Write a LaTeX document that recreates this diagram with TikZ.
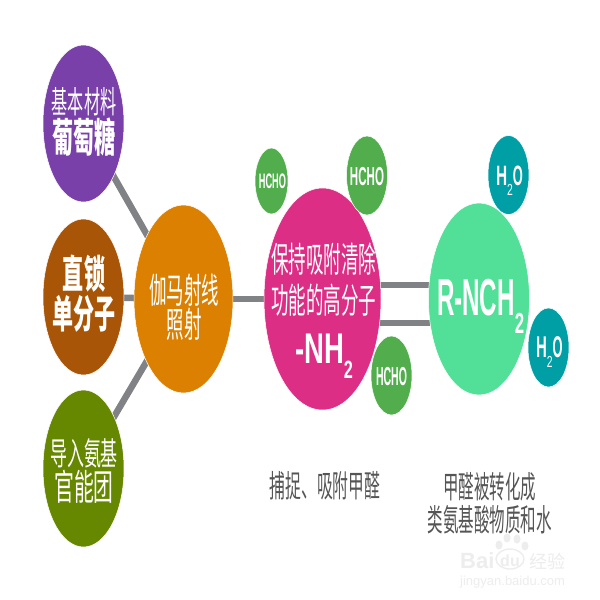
\documentclass[tikz,border=0pt]{standalone}
\usepackage{fontspec}
\usepackage{graphicx}
\usetikzlibrary{shapes.geometric,backgrounds}
\setmainfont{Noto Sans CJK SC}
\newfontfamily\latinf{Liberation Sans}
\definecolor{cpurple}{HTML}{7840A8}
\definecolor{cbrown}{HTML}{A85508}
\definecolor{colive}{HTML}{668800}
\definecolor{corange}{HTML}{DB8000}
\definecolor{cmagenta}{HTML}{DC2E85}
\definecolor{cmint}{HTML}{52E098}
\definecolor{chcho}{HTML}{52AE4D}
\definecolor{cteal}{HTML}{009FA5}
\definecolor{cgrayl}{HTML}{808285}
\definecolor{ccap}{HTML}{555555}
\definecolor{cwm}{HTML}{EDEDED}
% size, x-scale, text
\newcommand\tx[3]{\scalebox{#2}[1]{\fontsize{#1pt}{#1pt}\selectfont #3}}
\newcommand\txb[3]{\scalebox{#2}[1]{\fontsize{#1pt}{#1pt}\selectfont\bfseries #3}}
\newcommand\lt[3]{\scalebox{#2}[1]{\fontsize{#1pt}{#1pt}\selectfont\latinf #3}}
\newcommand\ltb[3]{\scalebox{#2}[1]{\fontsize{#1pt}{#1pt}\selectfont\latinf\bfseries #3}}
\tikzset{
  blob/.style={ellipse,inner sep=0pt,outer sep=0pt,draw=white,line width=0.5pt},
  txt/.style={inner sep=0pt,outer sep=0pt,text=white},
  captxt/.style={inner sep=0pt,outer sep=0pt,text=ccap},
  link/.style={draw=cgrayl,line width=6.5pt}
}
\begin{document}
\begin{tikzpicture}[x=1pt,y=-1pt]
\useasboundingbox (0,0) rectangle (600,600);
% bubbles
\node[blob,fill=cpurple,minimum width=81pt,minimum height=157pt] (purple) at (83.5,123.5) {};
\node[blob,fill=cbrown,minimum width=81pt,minimum height=156pt] (brown) at (83.5,297) {};
\node[blob,fill=colive,minimum width=81pt,minimum height=157pt] (olive) at (83.5,468.5) {};
\node[blob,fill=corange,minimum width=99pt,minimum height=188pt] (gamma) at (183.5,299) {};
\node[blob,fill=cmagenta,minimum width=117pt,minimum height=222pt] (amine) at (322.5,299) {};
\node[blob,fill=cmint,minimum width=101pt,minimum height=192pt] (rnch) at (479,299) {};
\node[blob,fill=chcho,minimum width=33pt,minimum height=66pt] (hchoa) at (271.5,181) {};
\node[blob,fill=chcho,minimum width=41pt,minimum height=79pt] (hchob) at (367,175.5) {};
\node[blob,fill=chcho,minimum width=41pt,minimum height=79pt] (hchoc) at (391.5,375.5) {};
\node[blob,fill=cteal,minimum width=41pt,minimum height=79pt] (watera) at (508.5,175) {};
\node[blob,fill=cteal,minimum width=41pt,minimum height=79pt] (waterb) at (548.5,347.5) {};
% connectors
\begin{scope}[on background layer]
\fill[white] (0,0) rectangle (600,600);
\draw[link] (purple.center) -- (gamma.center);
\draw[link] (brown.center) -- (gamma.center);
\draw[link] (olive.center) -- (gamma.center);
\draw[link] (gamma.center) -- (amine.center);
\draw[link] ([yshift=14pt]amine.center) -- ([yshift=14pt]rnch.center);
\draw[link] ([yshift=-24pt]amine.center) -- ([yshift=-24pt]rnch.center);
\end{scope}
% bubble texts
\node[txt] (t1) at (84,102) {\tx{31}{.52}{基本材料}};
\node[txt] (t2) at (84,137) {\txb{40}{.53}{葡萄糖}};
\node[txt] (t3) at (84,274) {\txb{39}{.54}{直锁}};
\node[txt] (t4) at (84,314) {\txb{39}{.54}{单分子}};
\node[txt] (t5) at (184,290) {\tx{35}{.5}{伽马射线}};
\node[txt] (t6) at (184,324) {\tx{35}{.5}{照射}};
\node[txt] (t7) at (84,453) {\tx{32}{.53}{导入氨基}};
\node[txt] (t8) at (84,487) {\tx{36}{.55}{官能团}};
\node[txt] (t9) at (323.5,259) {\tx{35}{.5}{保持吸附清除}};
\node[txt] (t10) at (323.5,300) {\tx{35}{.5}{功能的高分子}};
\node[txt,anchor=base west] (t11) at (295,363) {\ltb{43}{.64}{-NH}\raisebox{-15pt}{\ltb{25}{.65}{2}}};
\node[txt,anchor=base west] (t12) at (437,315) {\ltb{52}{.465}{R-NCH}\raisebox{-18pt}{\ltb{29}{.58}{2}}};
\node[txt,anchor=base] (h1) at (272.5,188) {\ltb{21}{.44}{HCHO}};
\node[txt,anchor=base] (h2) at (367,185) {\ltb{26}{.445}{HCHO}};
\node[txt,anchor=base] (h3) at (391.5,385) {\ltb{26}{.405}{HCHO}};
\node[txt,anchor=base west] (w1) at (496,185) {\ltb{28}{.55}{H}\raisebox{-10pt}{\lt{16}{.65}{2}}\ltb{28}{.46}{O}};
\node[txt,anchor=base west] (w2) at (536,357) {\ltb{30}{.5}{H}\raisebox{-10pt}{\lt{16}{.65}{2}}\ltb{30}{.43}{O}};
% captions
\node[captxt] (c1) at (325,486) {\tx{31}{.51}{捕捉、吸附甲醛}};
\node[captxt] (c2) at (489.5,487) {\tx{31}{.5}{甲醛被转化成}};
\node[captxt] (c3) at (489.5,519.5) {\tx{31}{.5}{类氨基酸物质和水}};
% watermark
\node[inner sep=0pt,text=cwm,anchor=base west] (wm1) at (460,568) {\ltb{22}{1}{Bai}};
\node[inner sep=0pt,text=cwm,anchor=base] (wm2) at (510,566) {\ltb{16}{1}{du}};
\node[inner sep=0pt,text=cwm,anchor=base west] (wm3) at (529,568) {\tx{18}{1}{经验}};
\node[inner sep=0pt,text=cwm,anchor=base west] (wm4) at (460,585) {\lt{13}{1}{jingyan.baidu.com}};
\begin{scope}[on background layer]
\draw[cwm,line width=1.4pt] (510,559) ellipse (14pt and 10pt);
\foreach \x/\y in {499/545,507/538,517/539,525/546}{\fill[cwm] (\x,\y) ellipse (3.5pt and 4.5pt);}
\end{scope}
\end{tikzpicture}
\end{document}
